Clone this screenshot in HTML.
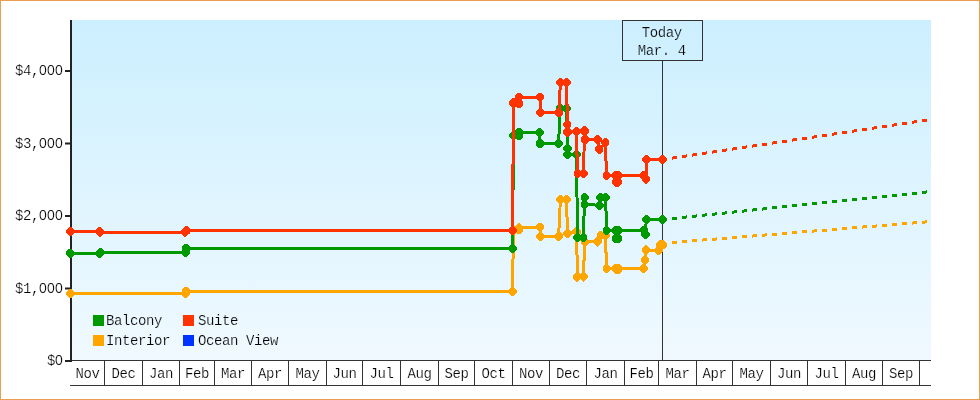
<!DOCTYPE html>
<html><head><meta charset="utf-8"><style>
html,body{margin:0;padding:0;background:#fff;}
svg{display:block;}
text{font-family:"Liberation Mono",monospace;font-size:14px;letter-spacing:-0.4px;fill:#000;stroke:#fff;stroke-width:0.2px;}
.tb text{stroke:#cdefff;} .z{font-family:"Liberation Sans",sans-serif;letter-spacing:0.215px;} .lg text{stroke:#ecf7ff;}
</style></head><body>
<svg width="980" height="400" viewBox="0 0 980 400">
<defs><linearGradient id="bg" x1="0" y1="0" x2="0" y2="1"><stop offset="0" stop-color="#ccefff"/><stop offset="1" stop-color="#f0f9ff"/></linearGradient></defs>
<rect x="0" y="0" width="980" height="400" fill="#fff"/>
<rect x="0.5" y="0.5" width="979" height="399" fill="none" stroke="#e8a050" stroke-width="1"/>
<rect x="72" y="20" width="859" height="340" fill="url(#bg)"/>
<g fill="#333">
<rect x="72" y="360" width="859" height="1"/>
<rect x="70" y="385" width="861" height="1"/>
<rect x="104" y="361" width="1" height="24"/><rect x="142" y="361" width="1" height="24"/><rect x="179" y="361" width="1" height="24"/><rect x="214" y="361" width="1" height="24"/><rect x="251" y="361" width="1" height="24"/><rect x="288" y="361" width="1" height="24"/><rect x="326" y="361" width="1" height="24"/><rect x="362" y="361" width="1" height="24"/><rect x="400" y="361" width="1" height="24"/><rect x="438" y="361" width="1" height="24"/><rect x="474" y="361" width="1" height="24"/><rect x="512" y="361" width="1" height="24"/><rect x="549" y="361" width="1" height="24"/><rect x="586" y="361" width="1" height="24"/><rect x="624" y="361" width="1" height="24"/><rect x="658" y="361" width="1" height="24"/><rect x="696" y="361" width="1" height="24"/><rect x="732" y="361" width="1" height="24"/><rect x="770" y="361" width="1" height="24"/><rect x="807" y="361" width="1" height="24"/><rect x="845" y="361" width="1" height="24"/><rect x="882" y="361" width="1" height="24"/><rect x="919" y="361" width="1" height="24"/>
</g>
<rect x="662" y="60" width="1" height="300" fill="#333"/>
<rect x="622.5" y="20.5" width="80" height="40" fill="none" stroke="#333" stroke-width="1"/>
<g class="tb" style="will-change:transform"><text x="661.8" y="37" text-anchor="middle">Today</text>
<text x="661.8" y="55" text-anchor="middle">Mar. 4</text></g>
<g style="will-change:transform"><text x="63" y="365.0" text-anchor="end">$<tspan class="z">0</tspan></text><rect x="65" y="360.0" width="6" height="2" fill="#222"/><text x="63" y="292.5" text-anchor="end">$1,<tspan class="z">000</tspan></text><rect x="65" y="287.5" width="6" height="2" fill="#222"/><text x="63" y="220.0" text-anchor="end">$2,<tspan class="z">000</tspan></text><rect x="65" y="215.0" width="6" height="2" fill="#222"/><text x="63" y="147.5" text-anchor="end">$3,<tspan class="z">000</tspan></text><rect x="65" y="142.5" width="6" height="2" fill="#222"/><text x="63" y="75.0" text-anchor="end">$4,<tspan class="z">000</tspan></text><rect x="65" y="70.0" width="6" height="2" fill="#222"/></g>
<rect x="70" y="20" width="2" height="342" fill="#222"/>
<g style="will-change:transform"><text x="87.5" y="378" text-anchor="middle">Nov</text><text x="123.5" y="378" text-anchor="middle">Dec</text><text x="161.0" y="378" text-anchor="middle">Jan</text><text x="197.0" y="378" text-anchor="middle">Feb</text><text x="233.0" y="378" text-anchor="middle">Mar</text><text x="270.0" y="378" text-anchor="middle">Apr</text><text x="307.5" y="378" text-anchor="middle">May</text><text x="344.5" y="378" text-anchor="middle">Jun</text><text x="381.5" y="378" text-anchor="middle">Jul</text><text x="419.5" y="378" text-anchor="middle">Aug</text><text x="456.5" y="378" text-anchor="middle">Sep</text><text x="493.5" y="378" text-anchor="middle">Oct</text><text x="531.0" y="378" text-anchor="middle">Nov</text><text x="568.0" y="378" text-anchor="middle">Dec</text><text x="605.5" y="378" text-anchor="middle">Jan</text><text x="641.5" y="378" text-anchor="middle">Feb</text><text x="677.5" y="378" text-anchor="middle">Mar</text><text x="714.5" y="378" text-anchor="middle">Apr</text><text x="751.5" y="378" text-anchor="middle">May</text><text x="789.0" y="378" text-anchor="middle">Jun</text><text x="826.5" y="378" text-anchor="middle">Jul</text><text x="864.0" y="378" text-anchor="middle">Aug</text><text x="901.0" y="378" text-anchor="middle">Sep</text></g>
<g class="lg" style="will-change:transform"><rect x="93" y="315" width="11" height="11" fill="#009900"/><text x="106" y="325">Balcony</text>
<rect x="183" y="315" width="11" height="11" fill="#ff3300"/><text x="198" y="325">Suite</text>
<rect x="93" y="335" width="11" height="11" fill="#ffa500"/><text x="106" y="345">Interior</text>
<rect x="183" y="335" width="11" height="11" fill="#0033ff"/><text x="198" y="345">Ocean View</text></g>
<path d="M672 241.06L677 240.66L677 243.66L672 244.06ZM682 240.25L687 239.84L687 242.84L682 243.25ZM692 239.44L697 239.03L697 242.03L692 242.44ZM702 238.62L707 238.22L707 241.22L702 241.62ZM712 237.81L717 237.41L717 240.41L712 240.81ZM722 237.00L727 236.59L727 239.59L722 240.00ZM732 236.19L737 235.78L737 238.78L732 239.19ZM742 235.37L747 234.97L747 237.97L742 238.37ZM752 234.56L757 234.16L757 237.16L752 237.56ZM762 233.75L767 233.34L767 236.34L762 236.75ZM772 232.94L777 232.53L777 235.53L772 235.94ZM782 232.12L787 231.72L787 234.72L782 235.12ZM792 231.31L797 230.90L797 233.90L792 234.31ZM802 230.50L807 230.09L807 233.09L802 233.50ZM812 229.69L817 229.28L817 232.28L812 232.69ZM822 228.87L827 228.47L827 231.47L822 231.87ZM832 228.06L837 227.65L837 230.65L832 231.06ZM842 227.25L847 226.84L847 229.84L842 230.25ZM852 226.44L857 226.03L857 229.03L852 229.44ZM862 225.62L867 225.22L867 228.22L862 228.62ZM872 224.81L877 224.40L877 227.40L872 227.81ZM882 224.00L887 223.59L887 226.59L882 227.00ZM892 223.18L897 222.78L897 225.78L892 226.18ZM902 222.37L907 221.97L907 224.97L902 225.37ZM912 221.56L917 221.15L917 224.15L912 224.56ZM922 220.75L927 220.34L927 223.34L922 223.75Z" fill="#ffa500" shape-rendering="crispEdges"/>
<polyline points="70.30,293.40 185.40,293.40 186.30,291.30 512.50,291.70 513.45,230.50 519.00,229.60 519.00,227.80 539.80,227.10 540.50,236.20 558.60,236.20 560.40,199.70 566.60,199.70 567.40,233.50 576.60,232.00 577.40,276.90 583.50,276.90 584.60,242.00 597.50,241.90 600.60,235.60 605.40,235.80 606.60,268.60 615.80,268.60 616.00,269.40 618.20,269.40 618.30,268.60 643.75,268.40 645.00,260.00 646.25,250.00 658.60,250.30 660.20,244.70 662.80,244.70" fill="none" stroke="#ffa500" stroke-width="3" stroke-linejoin="miter" shape-rendering="crispEdges"/>
<path d="M69.30 288.80L71.30 288.80L74.40 291.90L74.40 294.90L71.30 298.00L69.30 298.00L66.20 294.90L66.20 291.90ZM184.40 288.80L186.40 288.80L189.50 291.90L189.50 294.90L186.40 298.00L184.40 298.00L181.30 294.90L181.30 291.90ZM185.30 286.70L187.30 286.70L190.40 289.80L190.40 292.80L187.30 295.90L185.30 295.90L182.20 292.80L182.20 289.80ZM511.50 287.10L513.50 287.10L516.60 290.20L516.60 293.20L513.50 296.30L511.50 296.30L508.40 293.20L508.40 290.20ZM512.45 225.90L514.45 225.90L517.55 229.00L517.55 232.00L514.45 235.10L512.45 235.10L509.35 232.00L509.35 229.00ZM518.00 225.00L520.00 225.00L523.10 228.10L523.10 231.10L520.00 234.20L518.00 234.20L514.90 231.10L514.90 228.10ZM518.00 223.20L520.00 223.20L523.10 226.30L523.10 229.30L520.00 232.40L518.00 232.40L514.90 229.30L514.90 226.30ZM538.80 222.50L540.80 222.50L543.90 225.60L543.90 228.60L540.80 231.70L538.80 231.70L535.70 228.60L535.70 225.60ZM539.50 231.60L541.50 231.60L544.60 234.70L544.60 237.70L541.50 240.80L539.50 240.80L536.40 237.70L536.40 234.70ZM557.60 231.60L559.60 231.60L562.70 234.70L562.70 237.70L559.60 240.80L557.60 240.80L554.50 237.70L554.50 234.70ZM559.40 195.10L561.40 195.10L564.50 198.20L564.50 201.20L561.40 204.30L559.40 204.30L556.30 201.20L556.30 198.20ZM565.60 195.10L567.60 195.10L570.70 198.20L570.70 201.20L567.60 204.30L565.60 204.30L562.50 201.20L562.50 198.20ZM566.40 228.90L568.40 228.90L571.50 232.00L571.50 235.00L568.40 238.10L566.40 238.10L563.30 235.00L563.30 232.00ZM575.60 227.40L577.60 227.40L580.70 230.50L580.70 233.50L577.60 236.60L575.60 236.60L572.50 233.50L572.50 230.50ZM576.40 272.30L578.40 272.30L581.50 275.40L581.50 278.40L578.40 281.50L576.40 281.50L573.30 278.40L573.30 275.40ZM582.50 272.30L584.50 272.30L587.60 275.40L587.60 278.40L584.50 281.50L582.50 281.50L579.40 278.40L579.40 275.40ZM583.60 237.40L585.60 237.40L588.70 240.50L588.70 243.50L585.60 246.60L583.60 246.60L580.50 243.50L580.50 240.50ZM596.50 237.30L598.50 237.30L601.60 240.40L601.60 243.40L598.50 246.50L596.50 246.50L593.40 243.40L593.40 240.40ZM599.60 231.00L601.60 231.00L604.70 234.10L604.70 237.10L601.60 240.20L599.60 240.20L596.50 237.10L596.50 234.10ZM604.40 231.20L606.40 231.20L609.50 234.30L609.50 237.30L606.40 240.40L604.40 240.40L601.30 237.30L601.30 234.30ZM605.60 264.00L607.60 264.00L610.70 267.10L610.70 270.10L607.60 273.20L605.60 273.20L602.50 270.10L602.50 267.10ZM614.80 264.00L616.80 264.00L619.90 267.10L619.90 270.10L616.80 273.20L614.80 273.20L611.70 270.10L611.70 267.10ZM615.00 264.80L617.00 264.80L620.10 267.90L620.10 270.90L617.00 274.00L615.00 274.00L611.90 270.90L611.90 267.90ZM617.20 264.80L619.20 264.80L622.30 267.90L622.30 270.90L619.20 274.00L617.20 274.00L614.10 270.90L614.10 267.90ZM617.30 264.00L619.30 264.00L622.40 267.10L622.40 270.10L619.30 273.20L617.30 273.20L614.20 270.10L614.20 267.10ZM642.75 263.80L644.75 263.80L647.85 266.90L647.85 269.90L644.75 273.00L642.75 273.00L639.65 269.90L639.65 266.90ZM644.00 255.40L646.00 255.40L649.10 258.50L649.10 261.50L646.00 264.60L644.00 264.60L640.90 261.50L640.90 258.50ZM645.25 245.40L647.25 245.40L650.35 248.50L650.35 251.50L647.25 254.60L645.25 254.60L642.15 251.50L642.15 248.50ZM657.60 245.70L659.60 245.70L662.70 248.80L662.70 251.80L659.60 254.90L657.60 254.90L654.50 251.80L654.50 248.80ZM659.20 240.10L661.20 240.10L664.30 243.20L664.30 246.20L661.20 249.30L659.20 249.30L656.10 246.20L656.10 243.20ZM661.80 240.10L663.80 240.10L666.90 243.20L666.90 246.20L663.80 249.30L661.80 249.30L658.70 246.20L658.70 243.20Z" fill="#ffa500" shape-rendering="crispEdges"/>
<path d="M672 216.98L677 216.46L677 219.46L672 219.98ZM682 215.94L687 215.42L687 218.42L682 218.94ZM692 214.90L697 214.38L697 217.38L692 217.90ZM702 213.86L707 213.33L707 216.33L702 216.86ZM712 212.81L717 212.29L717 215.29L712 215.81ZM722 211.77L727 211.25L727 214.25L722 214.77ZM732 210.73L737 210.21L737 213.21L732 213.73ZM742 209.69L747 209.17L747 212.17L742 212.69ZM752 208.65L757 208.13L757 211.13L752 211.65ZM762 207.60L767 207.08L767 210.08L762 210.60ZM772 206.56L777 206.04L777 209.04L772 209.56ZM782 205.52L787 205.00L787 208.00L782 208.52ZM792 204.48L797 203.96L797 206.96L792 207.48ZM802 203.44L807 202.92L807 205.92L802 206.44ZM812 202.40L817 201.88L817 204.88L812 205.40ZM822 201.35L827 200.83L827 203.83L822 204.35ZM832 200.31L837 199.79L837 202.79L832 203.31ZM842 199.27L847 198.75L847 201.75L842 202.27ZM852 198.23L857 197.71L857 200.71L852 201.23ZM862 197.19L867 196.67L867 199.67L862 200.19ZM872 196.15L877 195.63L877 198.63L872 199.15ZM882 195.10L887 194.58L887 197.58L882 198.10ZM892 194.06L897 193.54L897 196.54L892 197.06ZM902 193.02L907 192.50L907 195.50L902 196.02ZM912 191.98L917 191.46L917 194.46L912 194.98ZM922 190.94L927 190.42L927 193.42L922 193.94Z" fill="#009900" shape-rendering="crispEdges"/>
<polyline points="70.30,253.30 99.40,253.30 100.30,252.50 185.40,252.30 186.30,248.30 512.50,248.50 513.50,135.50 519.00,135.70 519.00,132.30 539.50,132.30 540.00,143.50 558.60,143.50 560.20,108.20 566.65,108.30 567.50,148.50 567.50,154.50 576.50,154.50 577.50,237.50 583.30,237.50 584.60,197.60 584.60,204.40 599.40,205.30 600.50,197.60 605.60,197.50 606.60,230.30 615.60,230.50 615.60,238.70 618.20,238.70 618.30,230.50 644.00,230.40 645.50,234.50 646.25,219.40 662.50,219.40" fill="none" stroke="#009900" stroke-width="3" stroke-linejoin="miter" shape-rendering="crispEdges"/>
<path d="M69.30 248.70L71.30 248.70L74.40 251.80L74.40 254.80L71.30 257.90L69.30 257.90L66.20 254.80L66.20 251.80ZM98.40 248.70L100.40 248.70L103.50 251.80L103.50 254.80L100.40 257.90L98.40 257.90L95.30 254.80L95.30 251.80ZM99.30 247.90L101.30 247.90L104.40 251.00L104.40 254.00L101.30 257.10L99.30 257.10L96.20 254.00L96.20 251.00ZM184.40 247.70L186.40 247.70L189.50 250.80L189.50 253.80L186.40 256.90L184.40 256.90L181.30 253.80L181.30 250.80ZM185.30 243.70L187.30 243.70L190.40 246.80L190.40 249.80L187.30 252.90L185.30 252.90L182.20 249.80L182.20 246.80ZM511.50 243.90L513.50 243.90L516.60 247.00L516.60 250.00L513.50 253.10L511.50 253.10L508.40 250.00L508.40 247.00ZM512.50 130.90L514.50 130.90L517.60 134.00L517.60 137.00L514.50 140.10L512.50 140.10L509.40 137.00L509.40 134.00ZM518.00 131.10L520.00 131.10L523.10 134.20L523.10 137.20L520.00 140.30L518.00 140.30L514.90 137.20L514.90 134.20ZM518.00 127.70L520.00 127.70L523.10 130.80L523.10 133.80L520.00 136.90L518.00 136.90L514.90 133.80L514.90 130.80ZM538.50 127.70L540.50 127.70L543.60 130.80L543.60 133.80L540.50 136.90L538.50 136.90L535.40 133.80L535.40 130.80ZM539.00 138.90L541.00 138.90L544.10 142.00L544.10 145.00L541.00 148.10L539.00 148.10L535.90 145.00L535.90 142.00ZM557.60 138.90L559.60 138.90L562.70 142.00L562.70 145.00L559.60 148.10L557.60 148.10L554.50 145.00L554.50 142.00ZM559.20 103.60L561.20 103.60L564.30 106.70L564.30 109.70L561.20 112.80L559.20 112.80L556.10 109.70L556.10 106.70ZM565.65 103.70L567.65 103.70L570.75 106.80L570.75 109.80L567.65 112.90L565.65 112.90L562.55 109.80L562.55 106.80ZM566.50 143.90L568.50 143.90L571.60 147.00L571.60 150.00L568.50 153.10L566.50 153.10L563.40 150.00L563.40 147.00ZM566.50 149.90L568.50 149.90L571.60 153.00L571.60 156.00L568.50 159.10L566.50 159.10L563.40 156.00L563.40 153.00ZM575.50 149.90L577.50 149.90L580.60 153.00L580.60 156.00L577.50 159.10L575.50 159.10L572.40 156.00L572.40 153.00ZM576.50 232.90L578.50 232.90L581.60 236.00L581.60 239.00L578.50 242.10L576.50 242.10L573.40 239.00L573.40 236.00ZM582.30 232.90L584.30 232.90L587.40 236.00L587.40 239.00L584.30 242.10L582.30 242.10L579.20 239.00L579.20 236.00ZM583.60 193.00L585.60 193.00L588.70 196.10L588.70 199.10L585.60 202.20L583.60 202.20L580.50 199.10L580.50 196.10ZM583.60 199.80L585.60 199.80L588.70 202.90L588.70 205.90L585.60 209.00L583.60 209.00L580.50 205.90L580.50 202.90ZM598.40 200.70L600.40 200.70L603.50 203.80L603.50 206.80L600.40 209.90L598.40 209.90L595.30 206.80L595.30 203.80ZM599.50 193.00L601.50 193.00L604.60 196.10L604.60 199.10L601.50 202.20L599.50 202.20L596.40 199.10L596.40 196.10ZM604.60 192.90L606.60 192.90L609.70 196.00L609.70 199.00L606.60 202.10L604.60 202.10L601.50 199.00L601.50 196.00ZM605.60 225.70L607.60 225.70L610.70 228.80L610.70 231.80L607.60 234.90L605.60 234.90L602.50 231.80L602.50 228.80ZM614.60 225.90L616.60 225.90L619.70 229.00L619.70 232.00L616.60 235.10L614.60 235.10L611.50 232.00L611.50 229.00ZM614.60 234.10L616.60 234.10L619.70 237.20L619.70 240.20L616.60 243.30L614.60 243.30L611.50 240.20L611.50 237.20ZM617.20 234.10L619.20 234.10L622.30 237.20L622.30 240.20L619.20 243.30L617.20 243.30L614.10 240.20L614.10 237.20ZM617.30 225.90L619.30 225.90L622.40 229.00L622.40 232.00L619.30 235.10L617.30 235.10L614.20 232.00L614.20 229.00ZM643.00 225.80L645.00 225.80L648.10 228.90L648.10 231.90L645.00 235.00L643.00 235.00L639.90 231.90L639.90 228.90ZM644.50 229.90L646.50 229.90L649.60 233.00L649.60 236.00L646.50 239.10L644.50 239.10L641.40 236.00L641.40 233.00ZM645.25 214.80L647.25 214.80L650.35 217.90L650.35 220.90L647.25 224.00L645.25 224.00L642.15 220.90L642.15 217.90ZM661.50 214.80L663.50 214.80L666.60 217.90L666.60 220.90L663.50 224.00L661.50 224.00L658.40 220.90L658.40 217.90Z" fill="#009900" shape-rendering="crispEdges"/>
<path d="M672 156.61L677 155.87L677 158.87L672 159.61ZM682 155.12L687 154.38L687 157.38L682 158.12ZM692 153.63L697 152.89L697 155.89L692 156.63ZM702 152.14L707 151.40L707 154.40L702 155.14ZM712 150.65L717 149.90L717 152.90L712 153.65ZM722 149.16L727 148.41L727 151.41L722 152.16ZM732 147.67L737 146.92L737 149.92L732 150.67ZM742 146.18L747 145.43L747 148.43L742 149.18ZM752 144.69L757 143.94L757 146.94L752 147.69ZM762 143.20L767 142.45L767 145.45L762 146.20ZM772 141.70L777 140.96L777 143.96L772 144.70ZM782 140.21L787 139.47L787 142.47L782 143.21ZM792 138.72L797 137.98L797 140.98L792 141.72ZM802 137.23L807 136.49L807 139.49L802 140.23ZM812 135.74L817 135.00L817 138.00L812 138.74ZM822 134.25L827 133.51L827 136.51L822 137.25ZM832 132.76L837 132.01L837 135.01L832 135.76ZM842 131.27L847 130.52L847 133.52L842 134.27ZM852 129.78L857 129.03L857 132.03L852 132.78ZM862 128.29L867 127.54L867 130.54L862 131.29ZM872 126.80L877 126.05L877 129.05L872 129.80ZM882 125.31L887 124.56L887 127.56L882 128.31ZM892 123.81L897 123.07L897 126.07L892 126.81ZM902 122.32L907 121.58L907 124.58L902 125.32ZM912 120.83L917 120.09L917 123.09L912 123.83ZM922 119.34L927 118.60L927 121.60L922 122.34Z" fill="#ff3300" shape-rendering="crispEdges"/>
<polyline points="70.30,231.50 99.50,231.80 100.30,232.00 185.40,232.00 186.30,230.50 512.50,230.50 513.50,103.00 519.00,103.50 519.00,97.40 540.00,97.40 540.50,112.40 558.90,112.60 560.40,82.60 566.70,82.60 567.30,124.40 567.50,132.00 576.30,131.50 577.60,173.50 583.50,173.50 584.50,131.00 585.00,139.50 597.60,139.60 599.30,149.20 605.30,142.60 606.60,175.60 615.80,175.50 616.00,182.30 618.00,182.30 618.50,175.50 644.05,175.50 645.95,179.30 646.40,159.40 662.50,159.40" fill="none" stroke="#ff3300" stroke-width="3" stroke-linejoin="miter" shape-rendering="crispEdges"/>
<path d="M69.30 226.90L71.30 226.90L74.40 230.00L74.40 233.00L71.30 236.10L69.30 236.10L66.20 233.00L66.20 230.00ZM98.50 227.20L100.50 227.20L103.60 230.30L103.60 233.30L100.50 236.40L98.50 236.40L95.40 233.30L95.40 230.30ZM99.30 227.40L101.30 227.40L104.40 230.50L104.40 233.50L101.30 236.60L99.30 236.60L96.20 233.50L96.20 230.50ZM184.40 227.40L186.40 227.40L189.50 230.50L189.50 233.50L186.40 236.60L184.40 236.60L181.30 233.50L181.30 230.50ZM185.30 225.90L187.30 225.90L190.40 229.00L190.40 232.00L187.30 235.10L185.30 235.10L182.20 232.00L182.20 229.00ZM511.50 225.90L513.50 225.90L516.60 229.00L516.60 232.00L513.50 235.10L511.50 235.10L508.40 232.00L508.40 229.00ZM512.50 98.40L514.50 98.40L517.60 101.50L517.60 104.50L514.50 107.60L512.50 107.60L509.40 104.50L509.40 101.50ZM518.00 98.90L520.00 98.90L523.10 102.00L523.10 105.00L520.00 108.10L518.00 108.10L514.90 105.00L514.90 102.00ZM518.00 92.80L520.00 92.80L523.10 95.90L523.10 98.90L520.00 102.00L518.00 102.00L514.90 98.90L514.90 95.90ZM539.00 92.80L541.00 92.80L544.10 95.90L544.10 98.90L541.00 102.00L539.00 102.00L535.90 98.90L535.90 95.90ZM539.50 107.80L541.50 107.80L544.60 110.90L544.60 113.90L541.50 117.00L539.50 117.00L536.40 113.90L536.40 110.90ZM557.90 108.00L559.90 108.00L563.00 111.10L563.00 114.10L559.90 117.20L557.90 117.20L554.80 114.10L554.80 111.10ZM559.40 78.00L561.40 78.00L564.50 81.10L564.50 84.10L561.40 87.20L559.40 87.20L556.30 84.10L556.30 81.10ZM565.70 78.00L567.70 78.00L570.80 81.10L570.80 84.10L567.70 87.20L565.70 87.20L562.60 84.10L562.60 81.10ZM566.30 119.80L568.30 119.80L571.40 122.90L571.40 125.90L568.30 129.00L566.30 129.00L563.20 125.90L563.20 122.90ZM566.50 127.40L568.50 127.40L571.60 130.50L571.60 133.50L568.50 136.60L566.50 136.60L563.40 133.50L563.40 130.50ZM575.30 126.90L577.30 126.90L580.40 130.00L580.40 133.00L577.30 136.10L575.30 136.10L572.20 133.00L572.20 130.00ZM576.60 168.90L578.60 168.90L581.70 172.00L581.70 175.00L578.60 178.10L576.60 178.10L573.50 175.00L573.50 172.00ZM582.50 168.90L584.50 168.90L587.60 172.00L587.60 175.00L584.50 178.10L582.50 178.10L579.40 175.00L579.40 172.00ZM583.50 126.40L585.50 126.40L588.60 129.50L588.60 132.50L585.50 135.60L583.50 135.60L580.40 132.50L580.40 129.50ZM584.00 134.90L586.00 134.90L589.10 138.00L589.10 141.00L586.00 144.10L584.00 144.10L580.90 141.00L580.90 138.00ZM596.60 135.00L598.60 135.00L601.70 138.10L601.70 141.10L598.60 144.20L596.60 144.20L593.50 141.10L593.50 138.10ZM598.30 144.60L600.30 144.60L603.40 147.70L603.40 150.70L600.30 153.80L598.30 153.80L595.20 150.70L595.20 147.70ZM604.30 138.00L606.30 138.00L609.40 141.10L609.40 144.10L606.30 147.20L604.30 147.20L601.20 144.10L601.20 141.10ZM605.60 171.00L607.60 171.00L610.70 174.10L610.70 177.10L607.60 180.20L605.60 180.20L602.50 177.10L602.50 174.10ZM614.80 170.90L616.80 170.90L619.90 174.00L619.90 177.00L616.80 180.10L614.80 180.10L611.70 177.00L611.70 174.00ZM615.00 177.70L617.00 177.70L620.10 180.80L620.10 183.80L617.00 186.90L615.00 186.90L611.90 183.80L611.90 180.80ZM617.00 177.70L619.00 177.70L622.10 180.80L622.10 183.80L619.00 186.90L617.00 186.90L613.90 183.80L613.90 180.80ZM617.50 170.90L619.50 170.90L622.60 174.00L622.60 177.00L619.50 180.10L617.50 180.10L614.40 177.00L614.40 174.00ZM643.05 170.90L645.05 170.90L648.15 174.00L648.15 177.00L645.05 180.10L643.05 180.10L639.95 177.00L639.95 174.00ZM644.95 174.70L646.95 174.70L650.05 177.80L650.05 180.80L646.95 183.90L644.95 183.90L641.85 180.80L641.85 177.80ZM645.40 154.80L647.40 154.80L650.50 157.90L650.50 160.90L647.40 164.00L645.40 164.00L642.30 160.90L642.30 157.90ZM661.50 154.80L663.50 154.80L666.60 157.90L666.60 160.90L663.50 164.00L661.50 164.00L658.40 160.90L658.40 157.90Z" fill="#ff3300" shape-rendering="crispEdges"/>

</svg>
</body></html>
